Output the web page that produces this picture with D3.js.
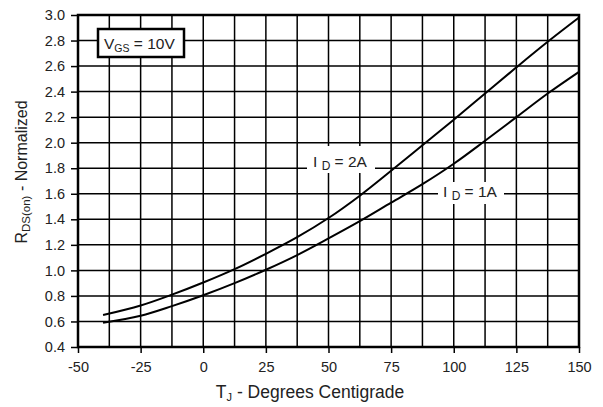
<!DOCTYPE html>
<html><head><meta charset="utf-8">
<script src="https://cdn.jsdelivr.net/npm/d3@7"></script>
<style>body{margin:0;background:#fff}svg{display:block;font-family:"Liberation Sans",Arial,sans-serif}</style>
</head><body><svg id="c" width="603" height="407"></svg>
<script>
const temps = [-40,-25,-12.5,0,12.5,25,37.5,50,62.5,75,87.5,100,112.5,125,137.5,150];
const id2A = [0.65,0.725,0.81,0.905,1.01,1.13,1.26,1.41,1.585,1.78,1.98,2.18,2.385,2.59,2.79,2.98];
const id1A = [0.59,0.645,0.72,0.805,0.90,1.005,1.12,1.25,1.385,1.53,1.675,1.835,2.015,2.20,2.385,2.555];
const xTicks = [-50,-25,0,25,50,75,100,125,150];
const yTicks = [0.4,0.6,0.8,1.0,1.2,1.4,1.6,1.8,2.0,2.2,2.4,2.6,2.8,3.0];
const xGrid = d3.range(-50,150.1,12.5);

const svg = d3.select("#c");
const L=78,R=579,T=15,B=347;
const x = d3.scaleLinear().domain([-50,150]).range([L,R]);
const y = d3.scaleLinear().domain([0.4,3.0]).range([B,T]);

// grid
svg.append("g").selectAll("line").data(xGrid).join("line")
 .attr("x1",d=>x(d)).attr("x2",d=>x(d)).attr("y1",T).attr("y2",B)
 .attr("stroke","#000").attr("stroke-width",1.5);
svg.append("g").selectAll("line").data(yTicks).join("line")
 .attr("x1",L).attr("x2",R).attr("y1",d=>y(d)).attr("y2",d=>y(d))
 .attr("stroke","#000").attr("stroke-width",1.5);

// axes
const ax = svg.append("g").attr("transform",`translate(0,${B})`)
 .call(d3.axisBottom(x).tickValues(xTicks).tickSize(6).tickPadding(9).tickFormat(d=>String(d)));
const ay = svg.append("g").attr("transform",`translate(${L},0)`)
 .call(d3.axisLeft(y).tickValues(yTicks).tickSize(7).tickPadding(6).tickFormat(d=>d.toFixed(1)));
[ax,ay].forEach(g=>{
 g.select(".domain").remove();
 g.selectAll(".tick line").attr("stroke","#000").attr("stroke-width",1.5);
 g.selectAll(".tick text").attr("fill","#222").style("font-size","14.5px").style("font-family","'Liberation Sans',Arial,sans-serif");
});

// curves
const line = d3.line().x((d,i)=>x(temps[i])).y(d=>y(d)).curve(d3.curveCatmullRom);
[id2A,id1A].forEach(s=>{
 svg.append("path").datum(s).attr("d",line).attr("fill","none")
  .attr("stroke","#000").attr("stroke-width",2);
});

// frame
svg.append("rect").attr("x",L).attr("y",T).attr("width",R-L).attr("height",B-T)
 .attr("fill","none").attr("stroke","#000").attr("stroke-width",2.5);

// labels with white backgrounds
function label(px,py,main,sub,rest,bx,by,bw,bh){
 svg.append("rect").attr("x",bx).attr("y",by).attr("width",bw).attr("height",bh).attr("fill","#fff");
 const t = svg.append("text").attr("x",px).attr("y",py).attr("fill","#222").style("font-size","15.5px");
 t.append("tspan").text(main);
 t.append("tspan").attr("dy",3).style("font-size","12px").text(sub);
 t.append("tspan").attr("dy",-3).text(rest);
}
label(313,167,"I ","D"," = 2A",307,146,68,27);
label(443,197,"I ","D"," = 1A",438,182,66,22);

// VGS box
svg.append("rect").attr("x",98).attr("y",29).attr("width",86).attr("height",28)
 .attr("fill","#fff").attr("stroke","#000").attr("stroke-width",2.5);
const vt = svg.append("text").attr("x",104).attr("y",49).attr("fill","#222").style("font-size","15.5px");
vt.append("tspan").text("V");
vt.append("tspan").attr("dy",3).style("font-size","10.5px").text("GS");
vt.append("tspan").attr("dy",-3).text(" = 10V");

// axis titles
const xt = svg.append("text").attr("x",310).attr("y",398).attr("text-anchor","middle").attr("fill","#222").style("font-size","17.5px");
xt.append("tspan").text("T");
xt.append("tspan").attr("dy",3).style("font-size","11px").text("J");
xt.append("tspan").attr("dy",-3).text(" - Degrees Centigrade");
const yt = svg.append("text").attr("transform","translate(27,172) rotate(-90)").attr("text-anchor","middle").attr("fill","#222").style("font-size","16px");
yt.append("tspan").text("R");
yt.append("tspan").attr("dy",3).style("font-size","11.5px").text("DS(on)");
yt.append("tspan").attr("dy",-3).text(" - Normalized");
</script></body></html>
